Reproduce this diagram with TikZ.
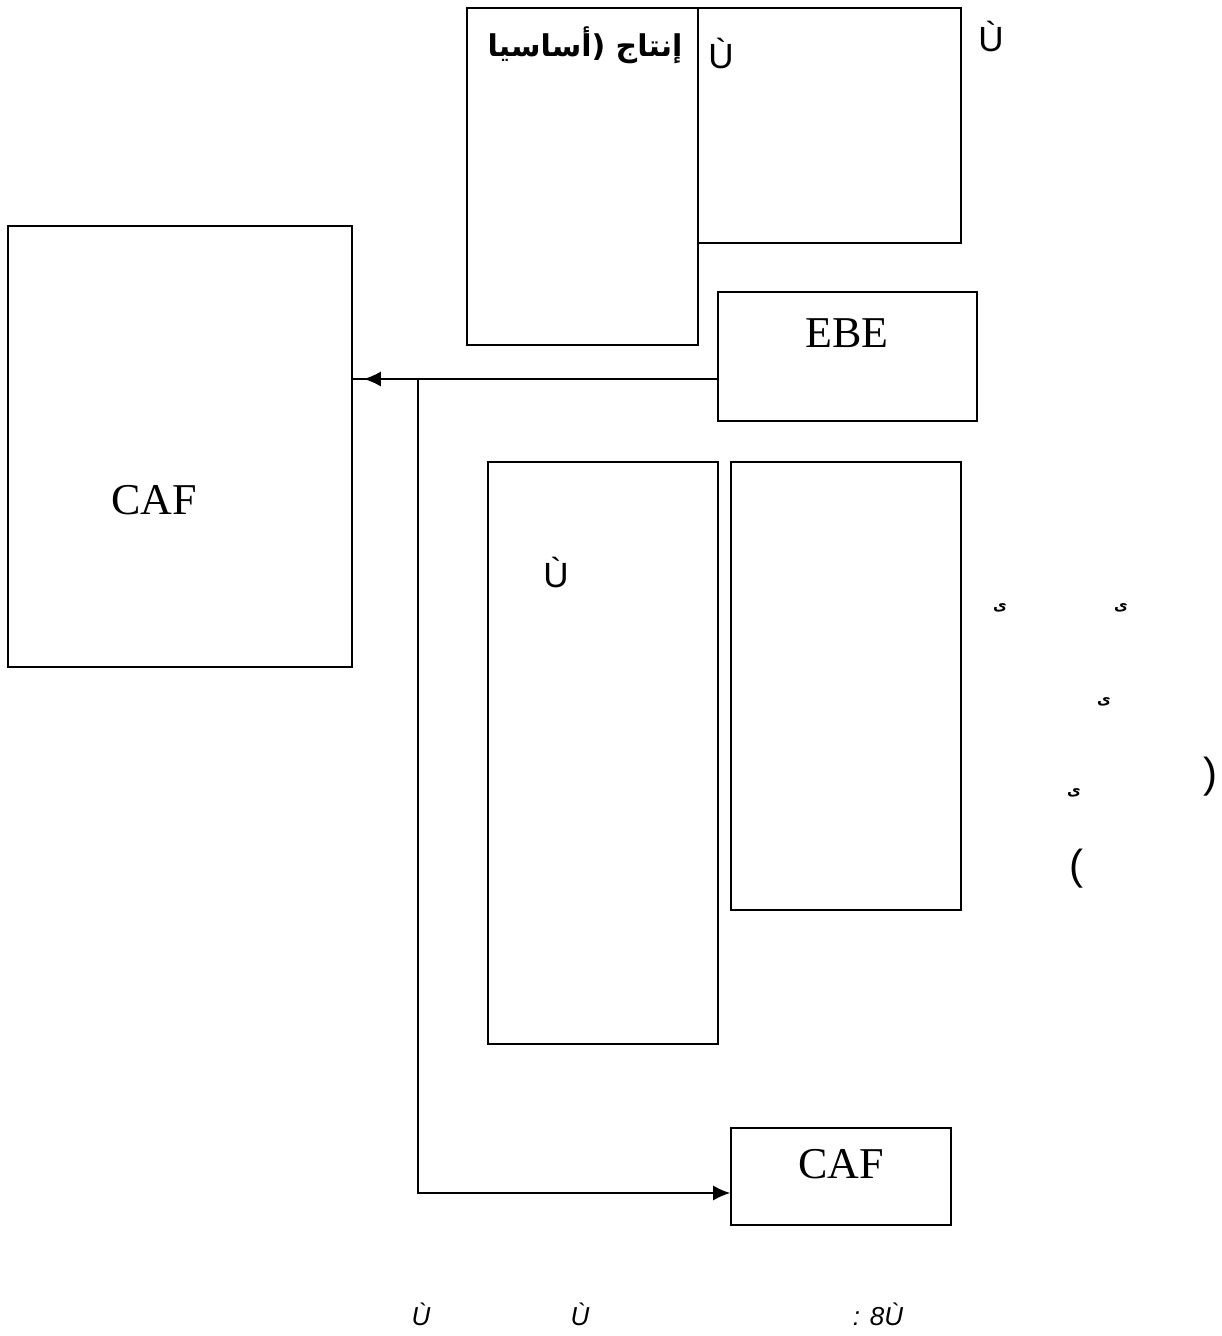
\documentclass[tikz,border=0pt]{standalone}
\usepackage{fontspec}
\setmainfont{Liberation Serif}
\newfontfamily\sansf{Liberation Sans}
\newfontfamily\arabicfont[Script=Arabic]{DejaVu Sans}
\TeXXeTstate=1
\usetikzlibrary{arrows.meta}
\begin{document}
\begin{tikzpicture}[x=1pt,y=-1pt,
  box/.style={draw, line width=1.6pt, inner sep=0pt},
  lbl/.style={inner sep=0pt},
  conn/.style={line width=1.6pt},
  tipstyle/.style={-{Latex[length=17pt,width=15pt]}},
  big/.style={lbl, font=\fontsize{44}{50}\selectfont},
  sanslbl/.style={lbl, font=\sansf\fontsize{35}{40}\selectfont},
  smallmark/.style={lbl, font=\arabicfont\bfseries\fontsize{15}{17}\selectfont},
  caplbl/.style={lbl, font=\sansf\itshape\fontsize{26}{30}\selectfont}]
\useasboundingbox (0,0) rectangle (1221,1336);
% boxes
\node[box, minimum width=231pt, minimum height=337pt] (bA) at (582.5,176.5) {};
\node[box, minimum width=263pt, minimum height=235pt] (bB) at (829.5,125.5) {};
\node[box, minimum width=259pt, minimum height=129pt] (ebe) at (847.5,356.5) {};
\node[box, minimum width=344pt, minimum height=441pt] (cafL) at (180,446.5) {};
\node[box, minimum width=230pt, minimum height=582pt] (t1) at (603,753) {};
\node[box, minimum width=230pt, minimum height=448pt] (t2) at (846,686) {};
\node[box, minimum width=220pt, minimum height=97pt] (cafB) at (841,1176.5) {};
% texts
\node[lbl, font=\arabicfont\bfseries\fontsize{30}{34}\selectfont] (ar) at (585,45) {\beginR إنتاج (أساسيا\endR};
\node[sanslbl] (u1) at (721,53) {Ù};
\node[sanslbl] (u2) at (991,36) {Ù};
\node[sanslbl] (u3) at (556,572) {Ù};
\node[big] (tebe) at (847,333) {EBE};
\node[big] (tcafL) at (154,500) {CAF};
\node[big] (tcafB) at (841,1164) {CAF};
\node[smallmark] (m1) at (1000,608) {\beginR ى\endR};
\node[smallmark] (m2) at (1121,608) {\beginR ى\endR};
\node[smallmark] (m3) at (1104,702) {\beginR ى\endR};
\node[smallmark] (m4) at (1074,793) {\beginR ى\endR};
\node[lbl, font=\sansf\fontsize{42}{46}\selectfont] (p1) at (1210,777) {)};
\node[lbl, font=\sansf\fontsize{42}{46}\selectfont] (p2) at (1076,869) {(};
\node[caplbl] (c1) at (421,1314) {Ù};
\node[caplbl] (c2) at (580,1314) {Ù};
\node[caplbl] (c3) at (878,1314) {: 8Ù};
% connectors
\coordinate (j1) at (418,379);
\coordinate (j2) at (418,1193);
\draw[conn] (ebe.west |- j1) -- (cafL.east |- j1);
\draw[conn, tipstyle, shorten >=11pt] (ebe.west |- j1) -- (cafL.east |- j1);
\draw[conn, tipstyle] (j1) -- (j2) -- (cafB.west |- j2);
\end{tikzpicture}
\end{document}
